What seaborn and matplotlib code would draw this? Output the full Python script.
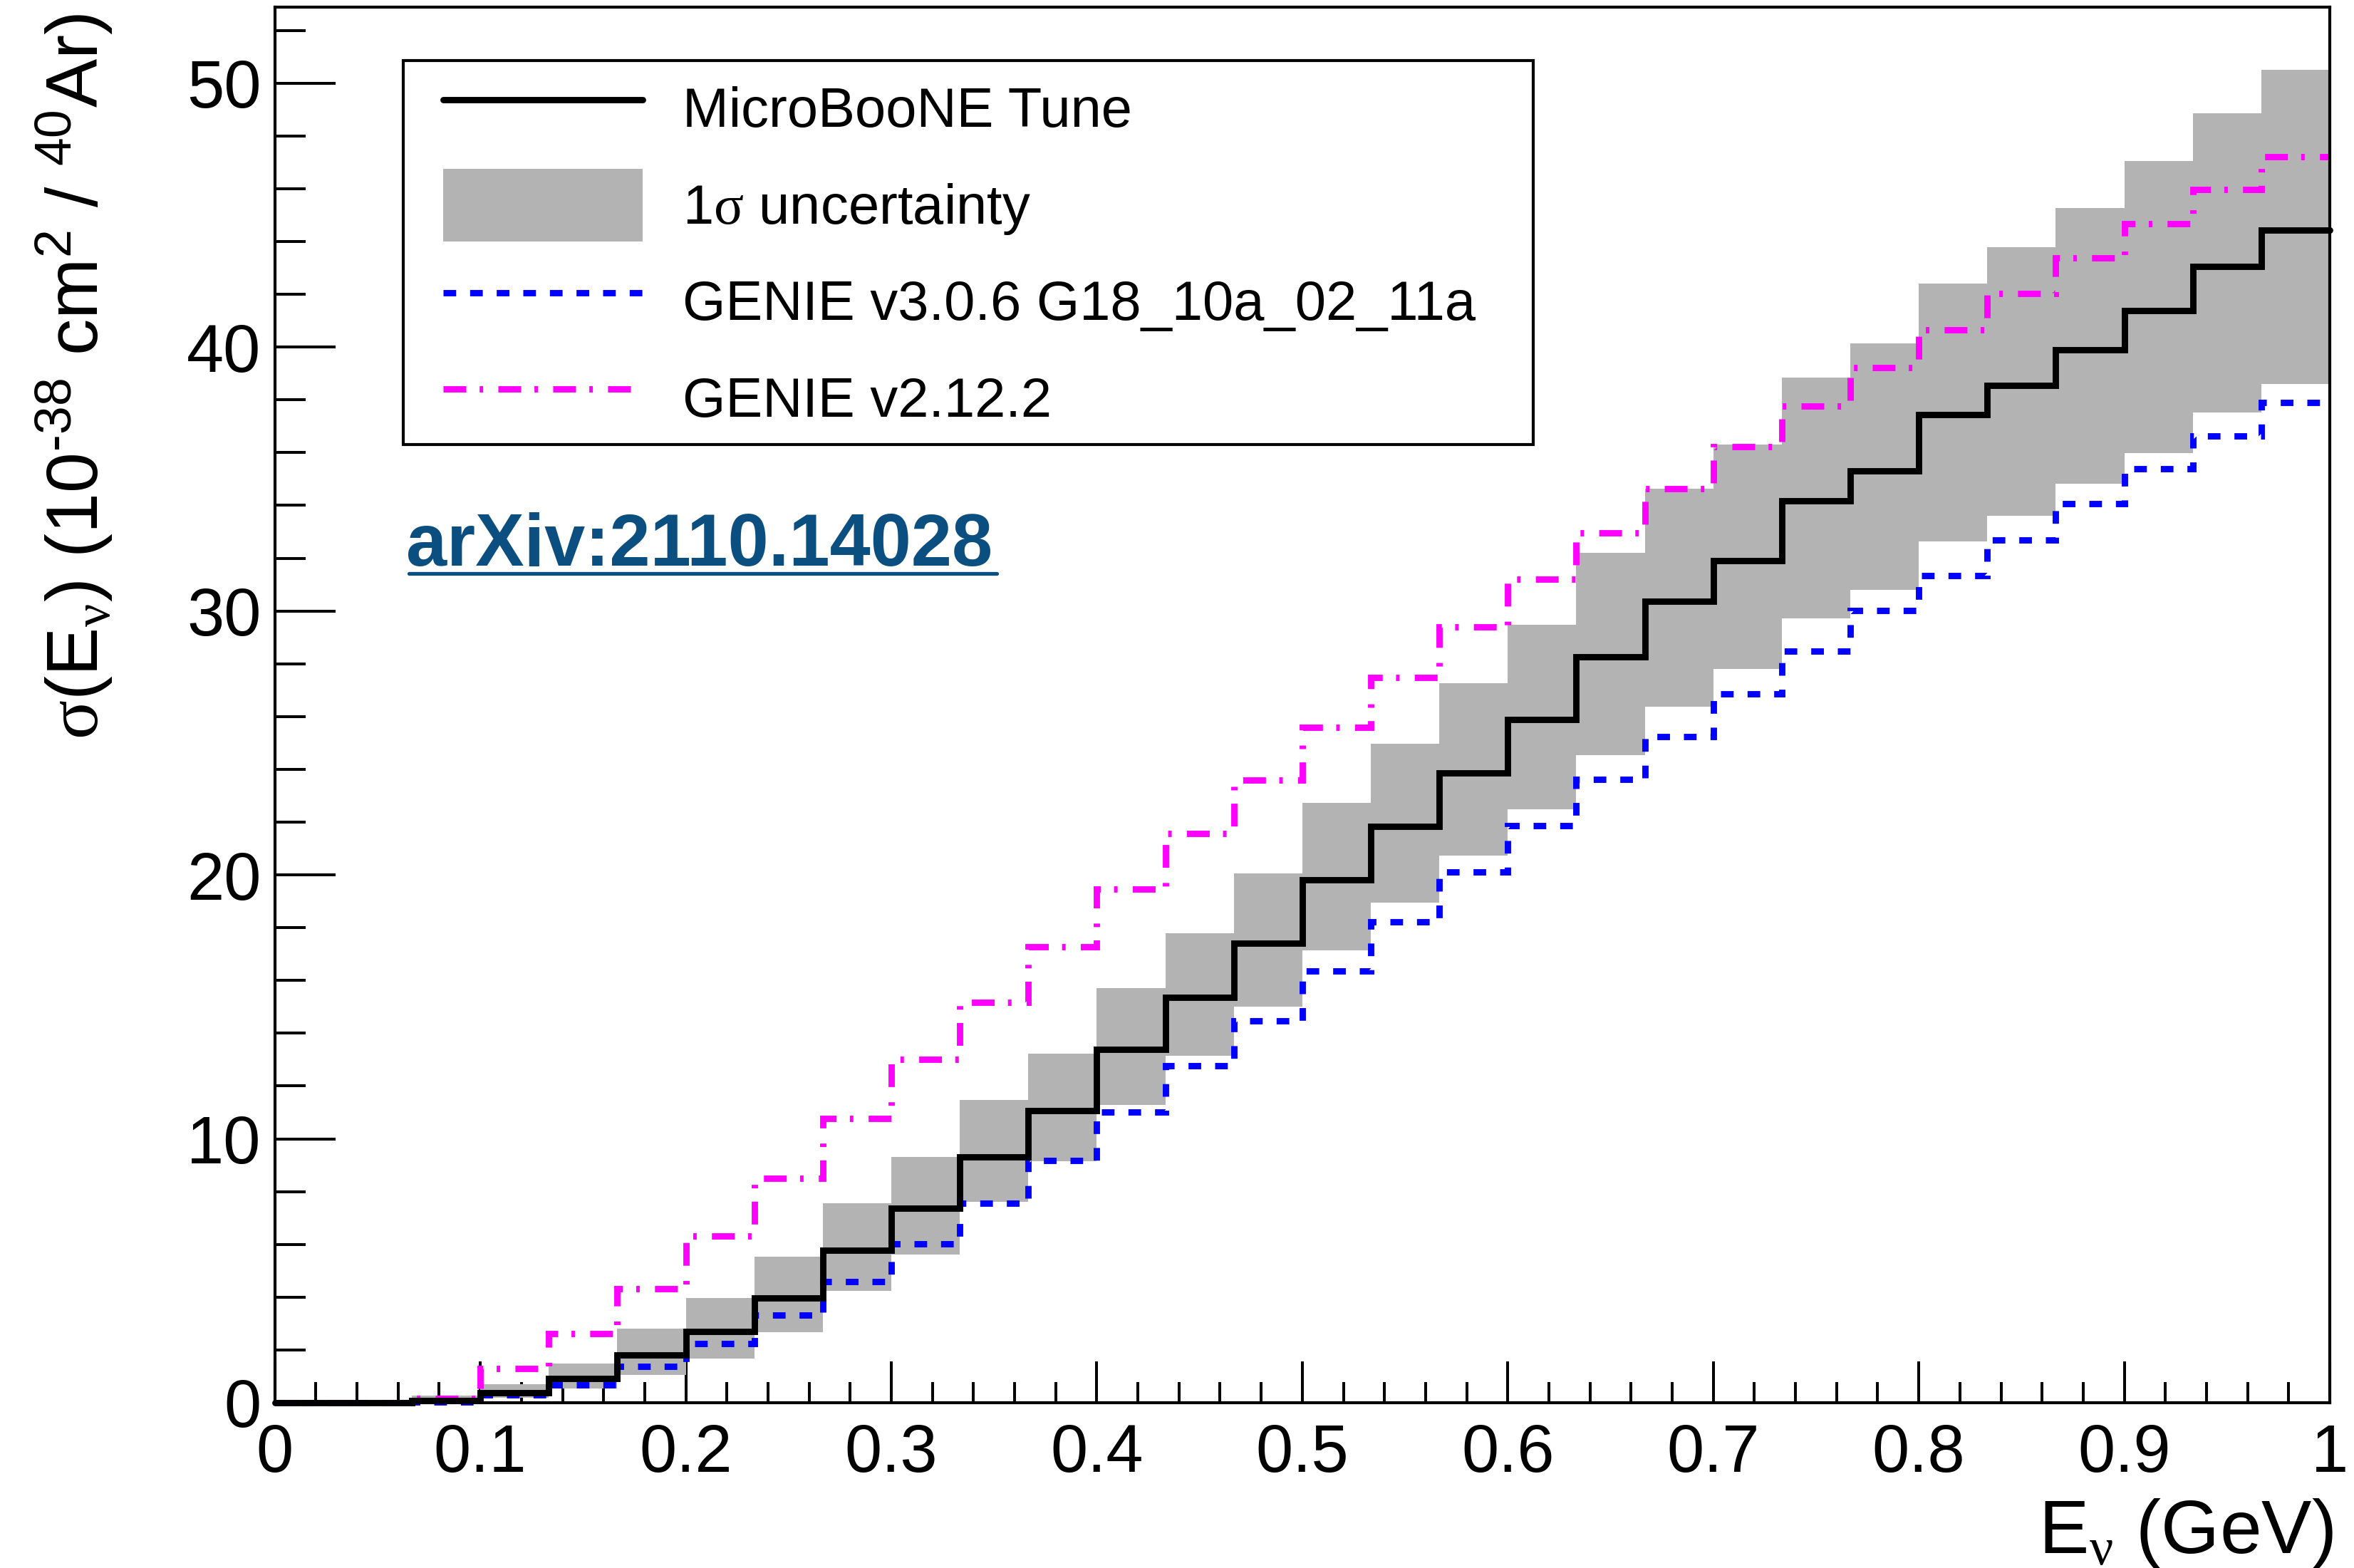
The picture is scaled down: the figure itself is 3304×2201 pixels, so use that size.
import numpy as np
import pandas as pd
import matplotlib
matplotlib.use("Agg")
import matplotlib.pyplot as plt
import seaborn as sns
from matplotlib.lines import Line2D
from matplotlib.patches import Patch, Rectangle
from matplotlib.ticker import MultipleLocator, FixedLocator, FixedFormatter

# ---- binned cross sections, 30 bins over 0-1 GeV (10^-38 cm^2 / 40Ar) ----
bin_edges = np.linspace(0.0, 1.0, 31)

tune = [0.0, 0.0, 0.08, 0.38, 0.92, 1.82, 2.69, 3.98, 5.78, 7.36,
        9.30, 11.08, 13.38, 15.35, 17.42, 19.80, 21.83, 23.85, 25.88, 28.26,
        30.36, 31.90, 34.16, 35.31, 37.43, 38.54, 39.90, 41.38, 43.05, 44.43]

tune_hi = [0.0, 0.0, 0.26, 0.71, 1.48, 2.81, 3.96, 5.52, 7.56, 9.32,
           11.46, 13.23, 15.70, 17.79, 20.06, 22.73, 24.98, 27.25, 29.49, 32.21,
           34.62, 36.31, 38.84, 40.13, 42.41, 43.79, 45.27, 47.06, 48.86, 50.50]

tune_lo = [0.0, 0.0, 0.0, 0.20, 0.54, 1.06, 1.67, 2.68, 4.23, 5.61,
           7.60, 9.16, 11.29, 13.15, 15.00, 17.14, 18.95, 20.72, 22.49, 24.55,
           26.37, 27.81, 29.72, 30.79, 32.63, 33.62, 34.83, 35.98, 37.51, 38.61]

genie_v3 = [0.0, 0.0, 0.03, 0.29, 0.68, 1.37, 2.25, 3.33, 4.59, 6.03,
            7.56, 9.19, 11.00, 12.77, 14.47, 16.35, 18.22, 20.10, 21.87, 23.62,
            25.25, 26.85, 28.47, 30.01, 31.35, 32.70, 34.06, 35.38, 36.63, 37.89]

genie_v2 = [0.0, 0.0, 0.17, 1.29, 2.61, 4.32, 6.31, 8.50, 10.76, 13.01,
            15.18, 17.28, 19.46, 21.56, 23.60, 25.58, 27.49, 29.40, 31.20, 32.96,
            34.62, 36.22, 37.77, 39.22, 40.66, 42.02, 43.38, 44.68, 45.96, 47.21]

series_labels = ["MicroBooNE Tune", "1$\\mathsf{σ}$ uncertainty",
                 "GENIE v3.0.6 G18_10a_02_11a", "GENIE v2.12.2"]

x_ticks = [0.0, 0.1, 0.2, 0.3, 0.4, 0.5, 0.6, 0.7, 0.8, 0.9, 1.0]
x_tick_labels = ["0", "0.1", "0.2", "0.3", "0.4", "0.5", "0.6", "0.7", "0.8", "0.9", "1"]
y_ticks = [0, 10, 20, 30, 40, 50]
y_tick_labels = ["0", "10", "20", "30", "40", "50"]

x_title = "E$_{\\mathsf{ν}}$ (GeV)"
y_title = "$\\mathsf{σ}$(E$_{\\mathsf{ν}}$) (10$^{\\mathrm{‐38}}$ cm$^{2}$ / $^{40}$Ar)"
ref_tag = "arXiv:2110.14028"

# ---- style ----
sns.set_theme(style="white")
plt.rcParams["font.family"] = ["Liberation Sans", "DejaVu Sans"]
plt.rcParams["mathtext.fontset"] = "custom"
plt.rcParams["mathtext.rm"] = "Liberation Sans"
plt.rcParams["mathtext.it"] = "Liberation Sans:italic"
plt.rcParams["mathtext.bf"] = "Liberation Sans:bold"
plt.rcParams["mathtext.sf"] = "Liberation Serif"
plt.rcParams["lines.dash_capstyle"] = "butt"
plt.rcParams["lines.solid_joinstyle"] = "miter"
plt.rcParams["lines.dash_joinstyle"] = "miter"

GRAY = "#b3b3b3"
BLUE = "#0000ff"
MAGENTA = "#ff00ff"
LW = 3.2
BLUE_DASH = (0, (2.0, 2.2))
MAGENTA_DASHDOT = (0, (3.6, 2.1, 0.56, 2.4))

fig = plt.figure(figsize=(16.52, 11.005), dpi=200)
fig.patch.set_facecolor("white")
ax = fig.add_axes([0.11674, 0.10541, 0.87297, 0.89005])
ax.set_facecolor("white")


def stairs_frame(values):
    """Edge-aligned table so a steps-post line spans every bin."""
    vals = list(values)
    return pd.DataFrame({"E": bin_edges, "xsec": vals + [vals[-1]]})


# 1 sigma band
ax.fill_between(bin_edges, list(tune_lo) + [tune_lo[-1]], list(tune_hi) + [tune_hi[-1]],
                step="post", color=GRAY, linewidth=0, zorder=1)

# generator predictions and the tuned central value
sns.lineplot(data=stairs_frame(genie_v3), x="E", y="xsec", ax=ax, estimator=None,
             sort=False, drawstyle="steps-post", color=BLUE, linewidth=LW,
             linestyle=BLUE_DASH, legend=False, zorder=3)
sns.lineplot(data=stairs_frame(genie_v2), x="E", y="xsec", ax=ax, estimator=None,
             sort=False, drawstyle="steps-post", color=MAGENTA, linewidth=LW,
             linestyle=MAGENTA_DASHDOT, legend=False, zorder=3.5)
sns.lineplot(data=stairs_frame(tune), x="E", y="xsec", ax=ax, estimator=None,
             sort=False, drawstyle="steps-post", color="black", linewidth=LW,
             legend=False, zorder=4)
for ln in ax.lines:
    ln.set_clip_on(False)

# ---- axes ----
ax.set_xlim(0, 1)
ax.set_ylim(0, 52.88)
ax.set_xlabel("")
ax.set_ylabel("")
ax.xaxis.set_major_locator(FixedLocator(x_ticks))
ax.xaxis.set_major_formatter(FixedFormatter(x_tick_labels))
ax.xaxis.set_minor_locator(MultipleLocator(0.02))
ax.yaxis.set_major_locator(FixedLocator(y_ticks))
ax.yaxis.set_major_formatter(FixedFormatter(y_tick_labels))
ax.yaxis.set_minor_locator(MultipleLocator(2))

ax.tick_params(axis="x", which="major", direction="in", length=21, width=1.45,
               pad=10, labelsize=33.8, colors="black", bottom=True, top=False)
ax.tick_params(axis="x", which="minor", direction="in", length=10.5, width=1.45,
               colors="black", bottom=True, top=False)
ax.tick_params(axis="y", which="major", direction="in", length=30.6, width=1.45,
               pad=7, labelsize=33.8, colors="black", left=True, right=False)
ax.tick_params(axis="y", which="minor", direction="in", length=15.5, width=1.45,
               colors="black", left=True, right=False)
for side in ["left", "right", "top", "bottom"]:
    ax.spines[side].set_visible(True)
    ax.spines[side].set_color("black")
    ax.spines[side].set_linewidth(1.5)
    ax.spines[side].set_zorder(5)

# axis titles
fig.text(0.9910, 1 - 2180 / 2201, x_title, ha="right", va="baseline",
         fontsize=38, color="black")
fig.text(138 / 3304, 1 - 528 / 2201, y_title, rotation=90, rotation_mode="anchor",
         ha="center", va="baseline", fontsize=36.8, color="black")

# ---- legend ----
ax.add_patch(Rectangle((0.0624, 0.6868), 0.5500, 0.2750, transform=ax.transAxes,
                       facecolor="white", edgecolor="black", linewidth=1.5,
                       zorder=6, clip_on=False))
handles = [
    Line2D([], [], color="black", linewidth=LW),
    Patch(facecolor=GRAY, edgecolor="none"),
    Line2D([], [], color=BLUE, linewidth=LW, linestyle=BLUE_DASH),
    Line2D([], [], color=MAGENTA, linewidth=LW, linestyle=MAGENTA_DASHDOT),
]
leg = ax.legend(handles, series_labels, loc="upper left",
                bbox_to_anchor=(0.0819, 0.9530), bbox_transform=ax.transAxes,
                borderaxespad=0, borderpad=0, frameon=False, fontsize=28,
                handlelength=3.6, handleheight=1.64, handletextpad=0.72,
                labelspacing=0.43)
leg.set_zorder(7)
for t in leg.get_texts():
    t.set_color("black")

# ---- reference tag ----
tag_color = "#0b4f81"
fig.text(570 / 3304, 1 - 794 / 2201, ref_tag, ha="left", va="baseline",
         fontsize=37, fontweight="bold", color=tag_color)
fig.add_artist(Line2D([574 / 3304, 1399 / 3304], [1 - 805 / 2201, 1 - 805 / 2201],
                      color=tag_color, linewidth=1.9, transform=fig.transFigure))

fig.savefig("out.png", dpi=200, facecolor="white")
